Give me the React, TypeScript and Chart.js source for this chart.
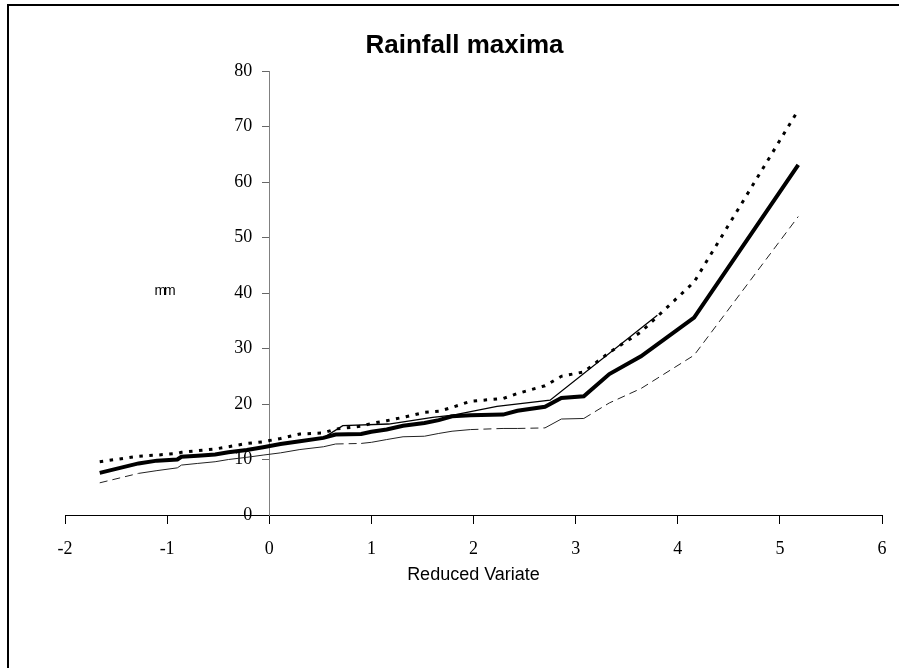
import React, { useEffect, useRef } from 'react';
import { Chart, registerables } from 'chart.js';

Chart.register(...registerables);

const chartTitle = 'Rainfall maxima';
const xAxisTitle = 'Reduced Variate';
const yAxisLabel = 'mm';

// Reduced variate (x) shared by the fitted curve and its limits
const reducedVariate = [-1.66, -1.28, -1.1, -0.9, -0.86, -0.7, -0.53, -0.4, -0.22, -0.06, 0.11, 0.3, 0.53, 0.65, 0.9, 1.0, 1.15, 1.31, 1.52, 1.66, 1.79, 1.97, 2.29, 2.43, 2.7, 2.86, 3.08, 3.33, 3.64, 4.16, 5.18];
const rainfallMain = [7.6, 9.3, 9.8, 10.0, 10.5, 10.7, 10.9, 11.3, 11.7, 12.2, 12.8, 13.3, 13.9, 14.5, 14.6, 15.0, 15.4, 16.1, 16.6, 17.1, 17.8, 18.0, 18.1, 18.8, 19.5, 21.1, 21.4, 25.4, 28.6, 35.6, 63.1];
const rainfallUpper = [9.6, 10.6, 10.8, 11.1, 11.3, 11.6, 11.9, 12.3, 12.9, 13.2, 13.8, 14.6, 14.8, 15.5, 16.0, 16.5, 17.0, 17.6, 18.5, 18.7, 19.4, 20.5, 21.0, 21.9, 23.3, 25.0, 25.8, 29.3, 33.0, 42.0, 73.0];
const rainfallLower = [5.8, 7.5, 8.0, 8.5, 9.0, 9.3, 9.6, 10.0, 10.4, 10.8, 11.2, 11.8, 12.3, 12.8, 12.9, 13.1, 13.6, 14.1, 14.2, 14.7, 15.1, 15.4, 15.6, 15.6, 15.7, 17.3, 17.4, 20.2, 22.8, 28.8, 53.8];

// Thin line
const thinVariate = [0.53, 0.72, 1.17, 1.6, 1.8, 2.23, 2.75, 3.8];
const thinRainfall = [13.9, 16.1, 16.4, 17.6, 18.0, 19.6, 20.7, 36.0];

const xMin = -2;
const xMax = 6;
const yMin = 0;
const yMax = 80;
const yAxisAt = 0;
const yLabelShift = 0.167; // tick labels sit left of the y axis (in x units)

function pairs(xs: number[], ys: number[]) {
  return xs.map((x, i) => ({ x, y: ys[i] }));
}

export default function App() {
  const ref = useRef<HTMLCanvasElement | null>(null);

  useEffect(() => {
    if (!ref.current) return;
    const mmLabel = {
      id: 'mmLabel',
      afterDraw(chart: any) {
        const { ctx, scales } = chart;
        ctx.save();
        ctx.font = '14px "Liberation Sans"';
        try {
          (ctx as any).letterSpacing = '-2px';
        } catch (e) {}
        ctx.fillStyle = '#000';
        ctx.textAlign = 'center';
        ctx.textBaseline = 'middle';
        ctx.fillText(yAxisLabel, scales.x.getPixelForValue(-1.03), scales.y.getPixelForValue(40.4));
        ctx.restore();
      },
    };

    const chart = new Chart(ref.current, {
      type: 'line',
      data: {
        datasets: [
          {
            label: 'Fitted',
            data: pairs(reducedVariate, rainfallMain),
            borderColor: '#000',
            borderWidth: 4,
            pointRadius: 0,
            tension: 0,
            fill: false,
          },
          {
            label: 'Observed',
            data: pairs(thinVariate, thinRainfall),
            borderColor: '#000',
            borderWidth: 1.3,
            pointRadius: 0,
            tension: 0,
            fill: false,
          },
          {
            label: 'Upper',
            data: pairs(reducedVariate, rainfallUpper),
            borderColor: '#000',
            borderWidth: 3,
            borderDash: [3.5, 6.5],
            pointRadius: 0,
            tension: 0,
            fill: false,
          },
          {
            label: 'Lower',
            data: pairs(reducedVariate, rainfallLower),
            borderColor: '#222',
            borderWidth: 1,
            pointRadius: 0,
            tension: 0,
            fill: false,
            segment: {
              borderDash: (c: any) => {
                const dx = c.p1.x - c.p0.x;
                const dy = c.p1.y - c.p0.y;
                return Math.sqrt(dx * dx + dy * dy) > 24 ? [8, 5] : [];
              },
            },
          },
        ],
      },
      options: {
        animation: false,
        responsive: false,
        maintainAspectRatio: false,
        layout: { padding: { left: 47, right: 20, top: 0, bottom: 153 } },
        plugins: {
          legend: { display: false },
          tooltip: { enabled: false },
          title: {
            display: true,
            text: chartTitle,
            color: '#000',
            font: { family: '"Liberation Sans"', size: 26, weight: 'bold', lineHeight: 1.2 },
            padding: { top: 30, bottom: 10 },
          },
        },
        scales: {
          x: {
            type: 'linear',
            position: { y: 0 },
            min: xMin,
            max: xMax,
            ticks: {
              stepSize: 1,
              color: '#000',
              padding: 15,
              font: { family: '"Liberation Serif"', size: 18 },
            },
            grid: { drawOnChartArea: false, drawTicks: true, tickLength: 8, color: '#000' },
            border: { display: true, color: '#000', width: 1 },
            title: {
              display: true,
              text: xAxisTitle,
              color: '#000',
              font: { family: '"Liberation Sans"', size: 18 },
              padding: { top: -10, bottom: 0 },
            },
          },
          y: {
            type: 'linear',
            position: { x: yAxisAt },
            min: yMin,
            max: yMax,
            ticks: { stepSize: 10, display: false },
            grid: { drawOnChartArea: false, drawTicks: true, tickLength: 7, color: '#666' },
            border: { display: true, color: '#808080', width: 1 },
          },
          yLabels: {
            type: 'linear',
            axis: 'y',
            position: { x: yAxisAt - yLabelShift },
            min: yMin,
            max: yMax,
            ticks: {
              stepSize: 10,
              color: '#000',
              font: { family: '"Liberation Serif"', size: 18 },
            },
            grid: { display: false, drawTicks: false },
            border: { display: false },
          },
          yPad: {
            type: 'linear',
            position: 'left',
            display: true,
            ticks: { display: false },
            grid: { display: false, drawTicks: false },
            border: { display: false },
            afterFit: (s: any) => {
              s.width = 18;
            },
          },
        },
      },
      plugins: [mmLabel],
    } as any);

    return () => chart.destroy();
  }, []);

  return (
    <div style={{ position: 'absolute', left: 0, top: 0, width: 899, height: 668, overflow: 'hidden', background: '#fff' }}>
      <div
        style={{
          position: 'absolute',
          left: 7,
          top: 4,
          right: 0,
          bottom: 0,
          borderLeft: '2px solid #000',
          borderTop: '2px solid #000',
        }}
      />
      <canvas ref={ref} width={902} height={668} style={{ position: 'absolute', left: 0, top: 0, display: 'block' }} />
    </div>
  );
}
